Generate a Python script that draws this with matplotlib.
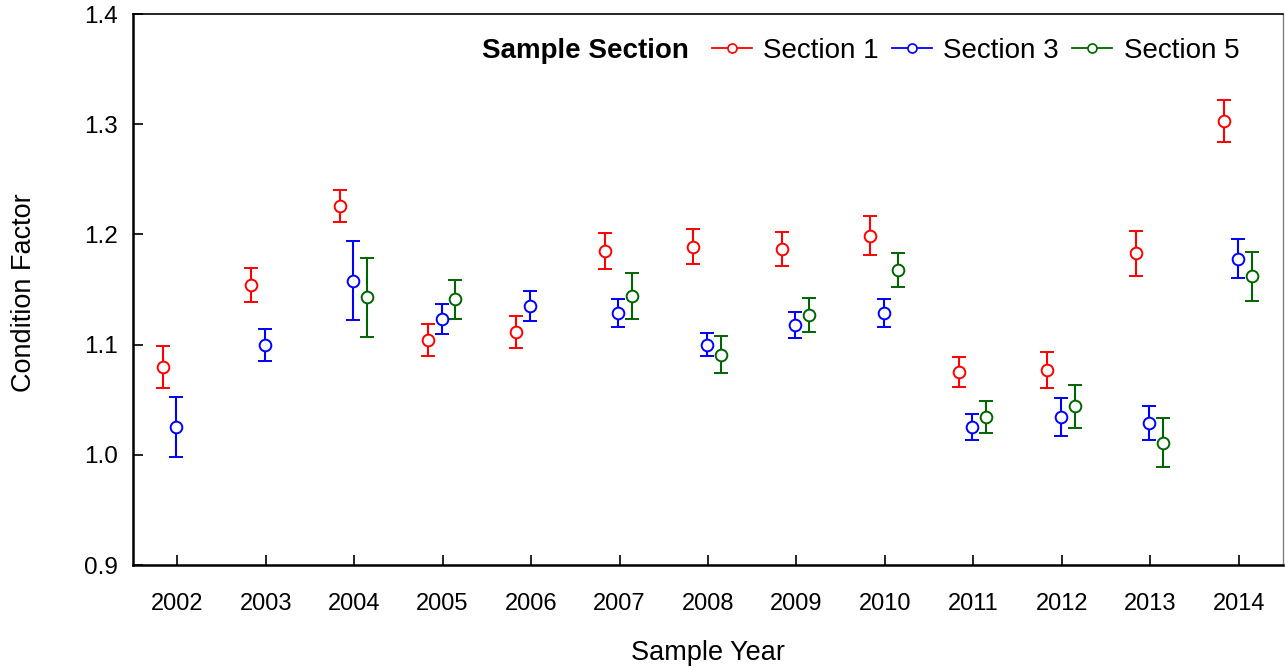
import numpy as np
import matplotlib
matplotlib.use("Agg")
import matplotlib.pyplot as plt
from matplotlib.lines import Line2D

plt.rcParams['font.family'] = ['Liberation Sans', 'DejaVu Sans']

years = [2002, 2003, 2004, 2005, 2006, 2007, 2008, 2009, 2010, 2011, 2012, 2013, 2014]
nan = np.nan

sec1_mean = [1.080, 1.154, 1.226, 1.104, 1.111, 1.185, 1.189, 1.187, 1.199, 1.075, 1.077, 1.183, 1.303]
sec1_err = [0.019, 0.0155, 0.0145, 0.0145, 0.0145, 0.0167, 0.0156, 0.0154, 0.0174, 0.0136, 0.0163, 0.0205, 0.0194]

sec3_mean = [1.025, 1.100, 1.158, 1.123, 1.135, 1.129, 1.100, 1.118, 1.129, 1.025, 1.034, 1.029, 1.178]
sec3_err = [0.027, 0.0145, 0.036, 0.0135, 0.0137, 0.0126, 0.0104, 0.0116, 0.0126, 0.0118, 0.0172, 0.0153, 0.0174]

sec5_mean = [nan, nan, 1.143, 1.141, nan, 1.144, 1.091, 1.127, 1.168, 1.034, 1.044, 1.011, 1.162]
sec5_err = [nan, nan, 0.036, 0.0175, nan, 0.021, 0.0165, 0.0155, 0.0154, 0.0145, 0.0194, 0.0221, 0.0221]

labels = ["Section 1", "Section 3", "Section 5"]
colors = ["#FF0000", "#0000FF", "#006400"]
offsets = [-0.165, -0.012, 0.145]
series = [(sec1_mean, sec1_err), (sec3_mean, sec3_err), (sec5_mean, sec5_err)]

fig = plt.figure(figsize=(12.85, 6.68), dpi=100)
ax = fig.add_axes([133 / 1285, 103 / 668, 1150 / 1285, 551 / 668])

x = np.array(years, dtype=float)
handles = []
for (m, e), c, off, lab in zip(series, colors, offsets, labels):
    m = np.array(m, dtype=float)
    e = np.array(e, dtype=float)
    ok = ~np.isnan(m)
    ax.errorbar(x[ok] + off, m[ok], yerr=e[ok], fmt='o', color=c, mfc='white',
                mec=c, ms=8.4, mew=1.4, elinewidth=1.5, capsize=4.7, capthick=1.5,
                zorder=3)
    handles.append(Line2D([], [], color=c, marker='o', mfc='white', mec=c,
                          ms=6.5, mew=1.2, lw=1.3, label=lab))

ax.set_xlim(2001.5, 2014.5)
ax.set_ylim(0.9, 1.4)
ax.set_xticks(years)
ax.set_xticklabels([str(y) for y in years])
ax.set_yticks([0.9, 1.0, 1.1, 1.2, 1.3, 1.4])
ax.set_yticklabels(["0.9", "1.0", "1.1", "1.2", "1.3", "1.4"])

ax.tick_params(axis='x', direction='in', length=7, width=1.2, pad=20, labelsize=17)
ax.tick_params(axis='y', direction='in', length=7, width=1.2, pad=11, labelsize=17.5)

for side in ('left', 'bottom'):
    ax.spines[side].set_linewidth(1.8)
    ax.spines[side].set_color('black')
ax.spines['top'].set_linewidth(1.2)
ax.spines['top'].set_color('black')
ax.spines['right'].set_linewidth(1.0)
ax.spines['right'].set_color('#808080')

ax.set_xlabel("Sample Year", fontsize=19.5)
ax.set_ylabel("Condition Factor", fontsize=19.5)
ax.xaxis.set_label_coords((708 - 133) / 1150, (565 - 640) / 551)
ax.yaxis.set_label_coords((37 - 133) / 1150, (565 - 293) / 551)

ly = (565 - 51) / 551
ax.text((481.7 - 133) / 1150, ly, "Sample Section", transform=ax.transAxes,
        fontsize=20, fontweight='bold', ha='left', va='center')
ax.legend(handles=handles, loc='center left', bbox_to_anchor=((712 - 133) / 1150, ly),
          ncol=3, frameon=False, fontsize=20, borderpad=0, borderaxespad=0,
          handlelength=1.45, handletextpad=0.4, columnspacing=0.47)

fig.savefig("out.png", dpi=100)
